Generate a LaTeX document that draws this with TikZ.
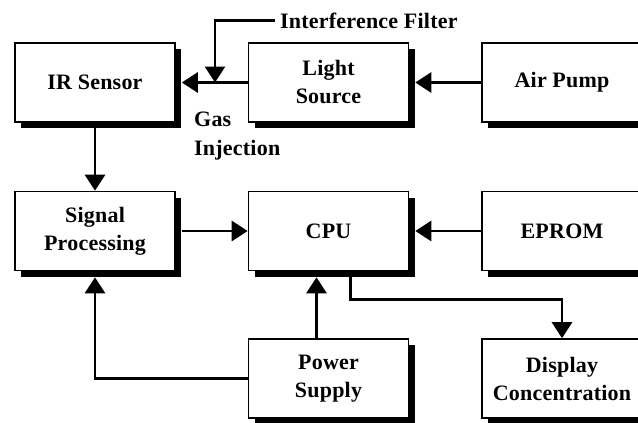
\documentclass[tikz,border=0pt]{standalone}
\usepackage{fontspec}
\setmainfont{Liberation Serif}
\newfontfamily\spacedfont[LetterSpace=1]{Liberation Serif}
\usetikzlibrary{arrows.meta,shadows}
\begin{document}
\begin{tikzpicture}[x=1pt,y=-1pt,
  blk/.style={draw,line width=1.6pt,fill=white,minimum width=160pt,minimum height=79pt,
    inner sep=0pt,align=center,font=\spacedfont\fontsize{22}{28}\selectfont\bfseries,
    drop shadow={shadow xshift=6pt,shadow yshift=-6pt,fill=black,opacity=1}},
  lbl/.style={inner sep=0pt,align=left,font=\spacedfont\fontsize{22}{29}\selectfont\bfseries},
  arr/.style={line width=2.8pt,-{Triangle[width=20pt,length=16pt]}}]
\clip (0,0) rectangle (638,423);
\fill[white] (0,0) rectangle (638,423);
% nodes
\node[blk] (ir)   at (95,82.5)  {IR Sensor};
\node[blk] (ls)   at (328.5,82.5) {Light\\Source};
\node[blk] (air)  at (562,82.5) {Air Pump};
\node[blk] (sp)   at (95,231)   {Signal\\Processing};
\node[blk] (cpu)  at (328.5,231) {CPU};
\node[blk] (ep)   at (562,231)  {EPROM};
\node[blk] (ps)   at (328.5,378.5) {Power\\Supply};
\node[blk] (disp) at (562,378.5) {Display\\Concentration};
\node[lbl,anchor=west] (ifl) at (280,20.5) {Interference Filter};
\node[lbl,anchor=west] (gas) at (194,136) {Gas\\Injection};
\coordinate (inj) at (215,82.5);
% connectors
\draw[arr] (ir.south) -- (sp.north);
\draw[arr] (ls.west) -- ([xshift=6pt]ir.east);
\draw[arr] ([xshift=-5pt]ifl.west) -| (inj);
\draw[arr] (air.west) -- ([xshift=6pt]ls.east);
\draw[arr] ([xshift=6pt]sp.east) -- (cpu.west);
\draw[arr] (ep.west) -- ([xshift=6pt]cpu.east);
\draw[arr] ([xshift=-12pt]ps.north) -- ([xshift=-12pt,yshift=-6pt]cpu.south);
\draw[arr] (ps.west) -| ([yshift=-6pt]sp.south);
\draw[arr] ([xshift=22pt,yshift=-6pt]cpu.south) -- ++(0,22) -| (disp.north);
\end{tikzpicture}
\end{document}
